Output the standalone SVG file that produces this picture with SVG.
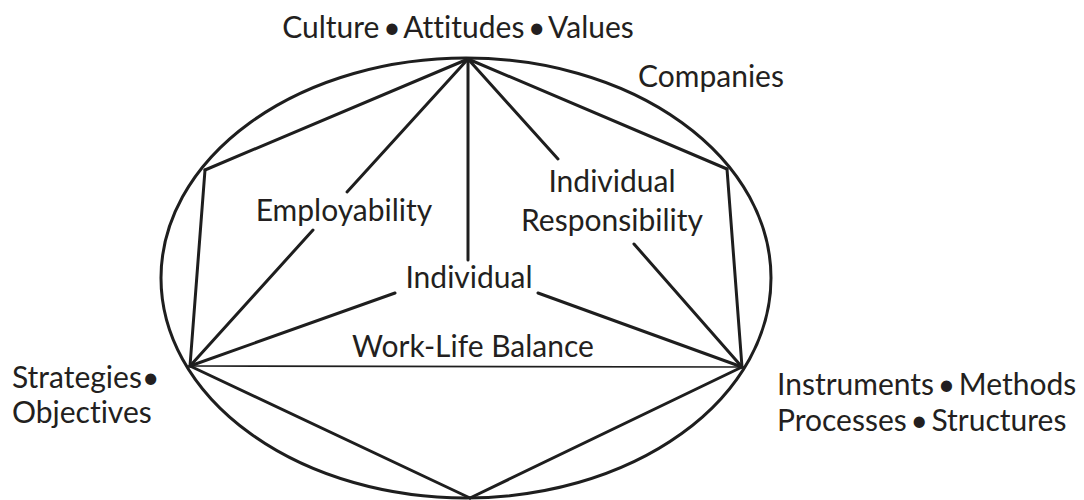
<svg xmlns="http://www.w3.org/2000/svg" width="1084" height="500" viewBox="0 0 1084 500">
  <style>
    .edge { stroke: #1e1e1e; stroke-width: 3; fill: none; stroke-linecap: round; }
    .thin { stroke: #1e1e1e; stroke-width: 1.6; fill: none; }
    .lbl, .out { font-family: Lato, "Liberation Sans", sans-serif; font-size: 30px; fill: #231f20; font-variant-ligatures: none; }
    .out { word-spacing: -4px; }
  </style>
  <rect width="1084" height="500" fill="#ffffff"/>

  <!-- outer frame: companies -->
  <g id="companies">
    <ellipse class="edge" cx="466" cy="278" rx="305" ry="220"/>
    <text class="out" x="638" y="87">Companies</text>
  </g>

  <!-- connectors between the corner points -->
  <g id="connectors">
    <line class="edge" x1="468" y1="59" x2="205" y2="170"/>
    <line class="edge" x1="205" y1="170" x2="190" y2="366"/>
    <line class="edge" x1="468" y1="59" x2="727" y2="169"/>
    <line class="edge" x1="727" y1="169" x2="742" y2="367"/>
    <line class="edge" x1="190" y1="366" x2="470" y2="498"/>
    <line class="edge" x1="742" y1="367" x2="470" y2="498"/>
    <line class="thin" x1="190" y1="366" x2="742" y2="367"/>
    <!-- apex to left corner, interrupted by the label -->
    <line class="edge" x1="468" y1="59" x2="347" y2="192"/>
    <line class="edge" x1="313" y1="230" x2="190" y2="366"/>
    <!-- apex to right corner, interrupted by the label -->
    <line class="edge" x1="468" y1="59" x2="558" y2="159"/>
    <line class="edge" x1="634" y1="244" x2="742" y2="367"/>
    <!-- apex down to the individual -->
    <line class="edge" x1="468" y1="59" x2="468" y2="260"/>
    <!-- individual out to both lower corners -->
    <line class="edge" x1="190" y1="366" x2="395" y2="293"/>
    <line class="edge" x1="742" y1="367" x2="538" y2="293"/>
  </g>

  <g id="culture">
    <text class="out" x="458" y="38" text-anchor="middle">Culture • Attitudes • Values</text>
  </g>
  <g id="strategies">
    <text class="out" x="12" y="388">Strategies•</text>
    <text class="out" x="12" y="423">Objectives</text>
  </g>
  <g id="instruments">
    <text class="out" x="777" y="395">Instruments • Methods</text>
    <text class="out" x="777" y="431">Processes • Structures</text>
  </g>
  <g id="employability">
    <text class="lbl" x="344" y="221" text-anchor="middle">Employability</text>
  </g>
  <g id="responsibility">
    <text class="lbl" x="612" y="192" text-anchor="middle">Individual</text>
    <text class="lbl" x="612" y="231" text-anchor="middle">Responsibility</text>
  </g>
  <g id="individual">
    <text class="lbl" x="469" y="288" text-anchor="middle">Individual</text>
  </g>
  <g id="worklife">
    <text class="lbl" x="473" y="357" text-anchor="middle">Work-Life Balance</text>
  </g>
</svg>
